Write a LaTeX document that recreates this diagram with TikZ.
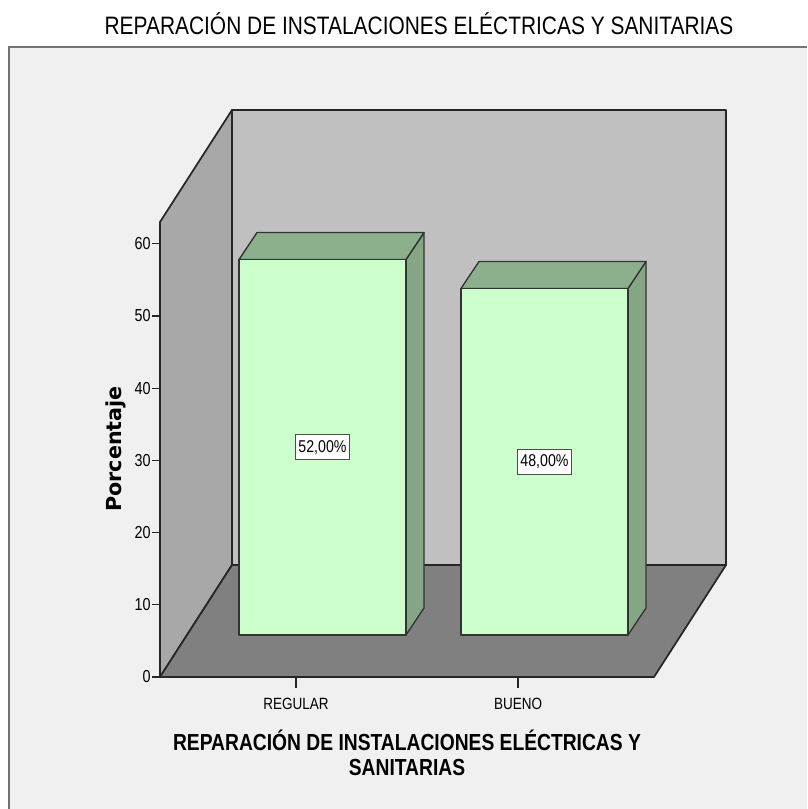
\documentclass[tikz,border=0pt]{standalone}
\usepackage{fontspec}
\newfontfamily\chartfont{Liberation Sans}[FakeStretch=0.83]
\newfontfamily\ytitlefont{DejaVu Sans}
\definecolor{framebg}{RGB}{240,240,240}
\definecolor{backwall}{RGB}{192,192,192}
\definecolor{sidewall}{RGB}{168,168,168}
\definecolor{floorgray}{RGB}{128,128,128}
\definecolor{barfront}{RGB}{204,255,204}
\definecolor{bartop}{RGB}{140,176,140}
\definecolor{barside}{RGB}{132,166,132}
\tikzset{
    wall/.style={draw=black!85, line width=1.3pt, line join=round},
    barline/.style={draw=black!80, line width=1pt, line join=round},
    datalabel/.style={draw=black!70, fill=white, line width=0.7pt, inner xsep=2pt, minimum height=19pt, font=\chartfont\fontsize{12.8}{14}\selectfont},
    ticklabel/.style={anchor=east, inner sep=0pt, font=\chartfont\fontsize{13}{15}\selectfont},
    catlabel/.style={anchor=base, inner sep=0pt, font=\chartfont\fontsize{12.2}{14}\selectfont}
}
\newcommand{\cubebar}[4]{%
    \pgfmathsetmacro{\bartopy}{635-#3*7.22}
    \filldraw[barline, fill=barside] (#2+167,635) -- (#2+185,608) -- (#2+185,\bartopy-27) -- (#2+167,\bartopy) -- cycle;
    \filldraw[barline, fill=bartop] (#2,\bartopy) -- (#2+18,\bartopy-27) -- (#2+185,\bartopy-27) -- (#2+167,\bartopy) -- cycle;
    \filldraw[barline, fill=barfront] (#2,635) rectangle (#2+167,\bartopy);
    \node[datalabel] (#1) at (#2+83.5,{(635+\bartopy)/2}) {#4};
}

\begin{document}
\begin{tikzpicture}[x=0.75pt, y=-0.75pt]
    \useasboundingbox (0,0) rectangle (807,809);
    \fill[white] (0,0) rectangle (807,809);
    \fill[framebg] (9,47) rectangle (807,809);
    \draw[black!55, line width=1.5pt] (9,809) -- (9,47) -- (807,47);

    \node[anchor=base, font=\chartfont\fontsize{18.9}{22}\selectfont] (title) at (419,35) {REPARACIÓN DE INSTALACIONES ELÉCTRICAS Y SANITARIAS};

    \coordinate (fl) at (160,677);
    \coordinate (fr) at (654,677);
    \coordinate (ftl) at (160,222);
    \coordinate (bl) at (232,565);
    \coordinate (br) at (726,565);
    \coordinate (tl) at (232,110);
    \coordinate (tr) at (726,110);

    \filldraw[wall, fill=backwall] (bl) rectangle (tr);
    \filldraw[wall, fill=sidewall] (fl) -- (ftl) -- (tl) -- (bl) -- cycle;
    \filldraw[wall, fill=floorgray] (fl) -- (fr) -- (br) -- (bl) -- cycle;

    \cubebar{regular}{239}{52}{52,00\%}
    \cubebar{bueno}{461}{48}{48,00\%}

    \foreach \v in {0,10,...,60} {
        \coordinate (tick\v) at (160,677-\v*7.22);
        \draw[black!85, line width=1pt] (tick\v) -- ++(-8,0);
        \node[ticklabel] (ticklabel\v) at (151,677-\v*7.22) {\v};
    }

    \coordinate (catregular) at (296,678);
    \coordinate (catbueno) at (518,678);
    \draw[black!85, line width=1pt] (catregular) -- ++(0,10);
    \draw[black!85, line width=1pt] (catbueno) -- ++(0,10);
    \node[catlabel] (regularlabel) at (296,709) {REGULAR};
    \node[catlabel] (buenolabel) at (518,709) {BUENO};

    \node[align=center, font=\chartfont\bfseries\fontsize{17.4}{18.6}\selectfont] (xtitle) at (407,753) {REPARACIÓN DE INSTALACIONES ELÉCTRICAS Y\\SANITARIAS};
    \node[rotate=90, anchor=base, font=\ytitlefont\bfseries\fontsize{15.5}{18}\selectfont] (ytitle) at (121,449) {Porcentaje};
\end{tikzpicture}
\end{document}
